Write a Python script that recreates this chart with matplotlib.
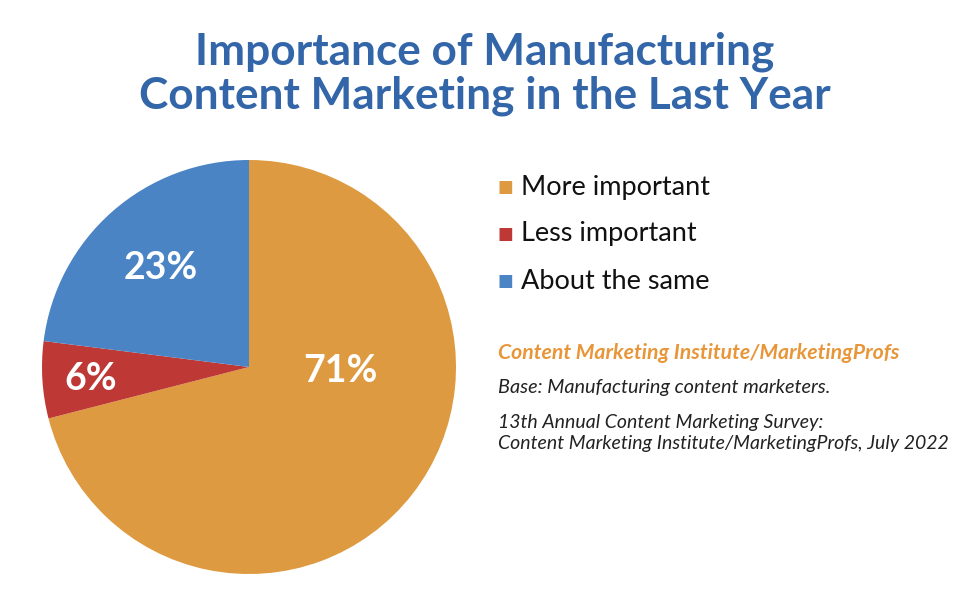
import matplotlib
matplotlib.use("Agg")
import matplotlib.pyplot as plt

categories = ["More important", "Less important", "About the same"]
values = [71, 6, 23]
colors = ["#DE9A40", "#BE3835", "#4A84C4"]
title = "Importance of Manufacturing\nContent Marketing in the Last Year"
source_head = "Content Marketing Institute/MarketingProfs"
source_base = "Base: Manufacturing content marketers."
source_note = "13th Annual Content Marketing Survey:\nContent Marketing Institute/MarketingProfs, July 2022"

fig = plt.figure(figsize=(9.62, 6.16), dpi=100)
fig.patch.set_facecolor("white")

ax = fig.add_axes([42/962, (616-574)/616, 414/962, 414/616])
wedges, _ = ax.pie(values, colors=colors, startangle=90, counterclock=False,
                   radius=1, wedgeprops=dict(linewidth=0))
ax.set_xlim(-1, 1)
ax.set_ylim(-1, 1)
ax.set_aspect("equal")
ax.axis("off")

label_pos = [(0.44, -0.02), (-0.765, -0.06), (-0.425, 0.48)]
for v, (x, y) in zip(values, label_pos):
    ax.text(x, y, f"{v}%", color="white", fontsize=27, fontweight="bold",
            family="Lato", ha="center", va="center")

fig.text(485/962, 1 - 74/616, title, ha="center", va="center",
         fontsize=31.8, fontweight="bold", family="Lato", color="#3366A8",
         linespacing=1.1)

for i, (cat, c) in enumerate(zip(categories, colors)):
    y = 1 - (187 + i*47)/616
    fig.text(505/962, y, "\u25A0", color=c, fontsize=12, ha="center", va="center",
             family="DejaVu Sans")
    fig.text(521/962, y, cat, color="#111111", fontsize=19.5, ha="left", va="center",
             family="Lato")

fig.text(498/962, 1 - 353/616, source_head, color="#E8963A", fontsize=15.3,
         fontweight="bold", style="italic", family="Lato", ha="left", va="center")
fig.text(498/962, 1 - 387/616, source_base, color="#222222", fontsize=14.3,
         style="italic", family="Lato", ha="left", va="center")
fig.text(498/962, 1 - 433/616, source_note, color="#222222", fontsize=14,
         style="italic", family="Lato", ha="left", va="center", linespacing=1.22)

fig.savefig("out.png", dpi=100)
